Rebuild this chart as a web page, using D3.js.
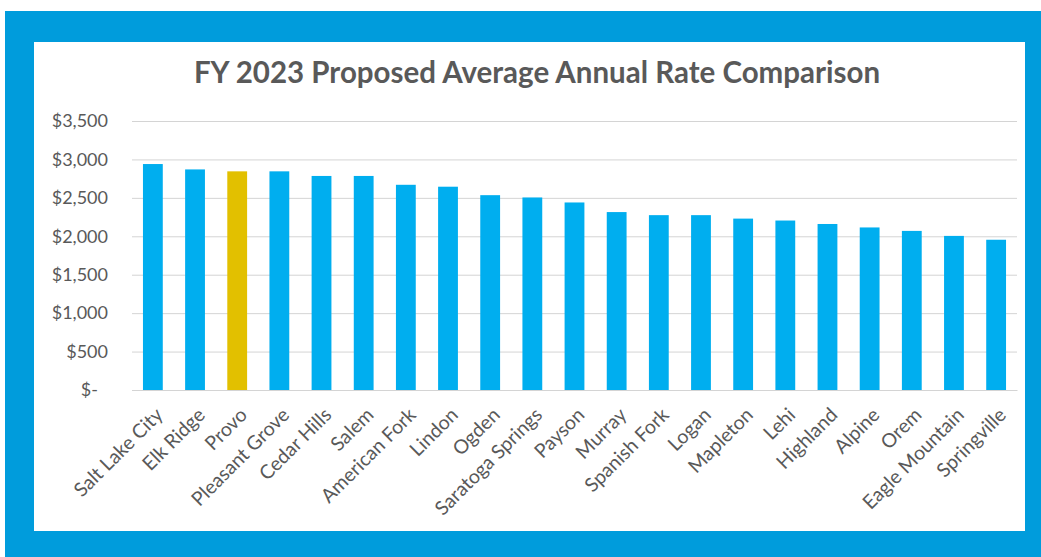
<!DOCTYPE html>
<html>
<head>
<meta charset="utf-8">
<script src="https://cdn.jsdelivr.net/npm/d3@7"></script>
<style>
  html, body { margin: 0; padding: 0; background: #fff; }
  svg { display: block; font-family: Lato, "Open Sans", sans-serif; }
</style>
</head>
<body>
<div id="chart"></div>
<script>
// Data
const cities = ["Salt Lake City", "Elk Ridge", "Provo", "Pleasant Grove", "Cedar Hills", "Salem",
    "American Fork", "Lindon", "Ogden", "Saratoga Springs", "Payson", "Murray", "Spanish Fork",
    "Logan", "Mapleton", "Lehi", "Highland", "Alpine", "Orem", "Eagle Mountain", "Springville"];
const rates = [2940, 2870, 2845, 2845, 2785, 2785, 2670, 2645, 2535, 2505, 2440, 2315, 2275,
    2275, 2230, 2205, 2160, 2115, 2070, 2005, 1955];
const highlight = "Provo";
const yTicks = [0, 500, 1000, 1500, 2000, 2500, 3000, 3500];
const title = "FY 2023 Proposed Average Annual Rate Comparison";

const W = 1041, H = 557;
const margin = { top: 121, right: 24, bottom: 167, left: 132 };
const width = W - margin.left - margin.right;
const height = H - margin.top - margin.bottom;

const svg = d3.select("#chart")
    .append("svg")
    .attr("width", W)
    .attr("height", H);

// Blue frame and white panel
svg.append("rect")
    .attr("x", 5).attr("y", 11)
    .attr("width", W - 5).attr("height", H - 11)
    .attr("fill", "#009cdc");

svg.append("rect")
    .attr("x", 34).attr("y", 42)
    .attr("width", 991).attr("height", 489)
    .attr("fill", "#fff");

svg.append("text")
    .attr("x", 537)
    .attr("y", 83)
    .attr("text-anchor", "middle")
    .attr("font-size", "29.5px")
    .attr("font-weight", "bold")
    .attr("fill", "#595959")
    .text(title);

const g = svg.append("g")
    .attr("transform", `translate(${margin.left},${margin.top})`);

// Scales
const x = d3.scaleBand()
    .domain(cities)
    .range([0, width])
    .paddingInner(0.53)
    .paddingOuter(0.26);

const y = d3.scaleLinear()
    .domain([0, 3500])
    .range([height, 0]);

// Gridlines
g.append("g")
    .call(d3.axisLeft(y).tickValues(yTicks).tickSize(-width).tickFormat(""))
    .call(s => s.select(".domain").remove())
    .selectAll("line")
    .attr("stroke", "#d4d4d4")
    .attr("stroke-width", 1);

// Y axis labels
const fmt = d3.format("$,");
g.append("g")
    .call(d3.axisLeft(y).tickValues(yTicks).tickSize(0).tickPadding(24)
        .tickFormat(d => d === 0 ? "$-" : fmt(d)))
    .call(s => s.select(".domain").remove())
    .selectAll("text")
    .attr("font-size", "18px")
    .attr("font-family", "Lato, sans-serif")
    .attr("fill", "#595959")
    .attr("dx", d => d === 0 ? -10 : 0);

// Bars
g.selectAll(".bar")
    .data(cities)
    .enter()
    .append("rect")
    .attr("class", "bar")
    .attr("x", d => x(d))
    .attr("y", (d, i) => y(rates[i]))
    .attr("width", x.bandwidth())
    .attr("height", (d, i) => height - y(rates[i]))
    .attr("fill", d => d === highlight ? "#e2c000" : "#00aeef");

// X axis
const xAxis = g.append("g")
    .attr("transform", `translate(0,${height})`)
    .call(d3.axisBottom(x).tickSize(0).tickPadding(0));

xAxis.select(".domain")
    .attr("stroke", "#d4d4d4");

xAxis.selectAll("text")
    .attr("font-size", "19.5px")
    .attr("font-family", "Lato, sans-serif")
    .attr("fill", "#595959")
    .attr("text-anchor", "end")
    .attr("dy", "0.3em")
    .attr("transform", "translate(7,22) rotate(-45)");
</script>
</body>
</html>
